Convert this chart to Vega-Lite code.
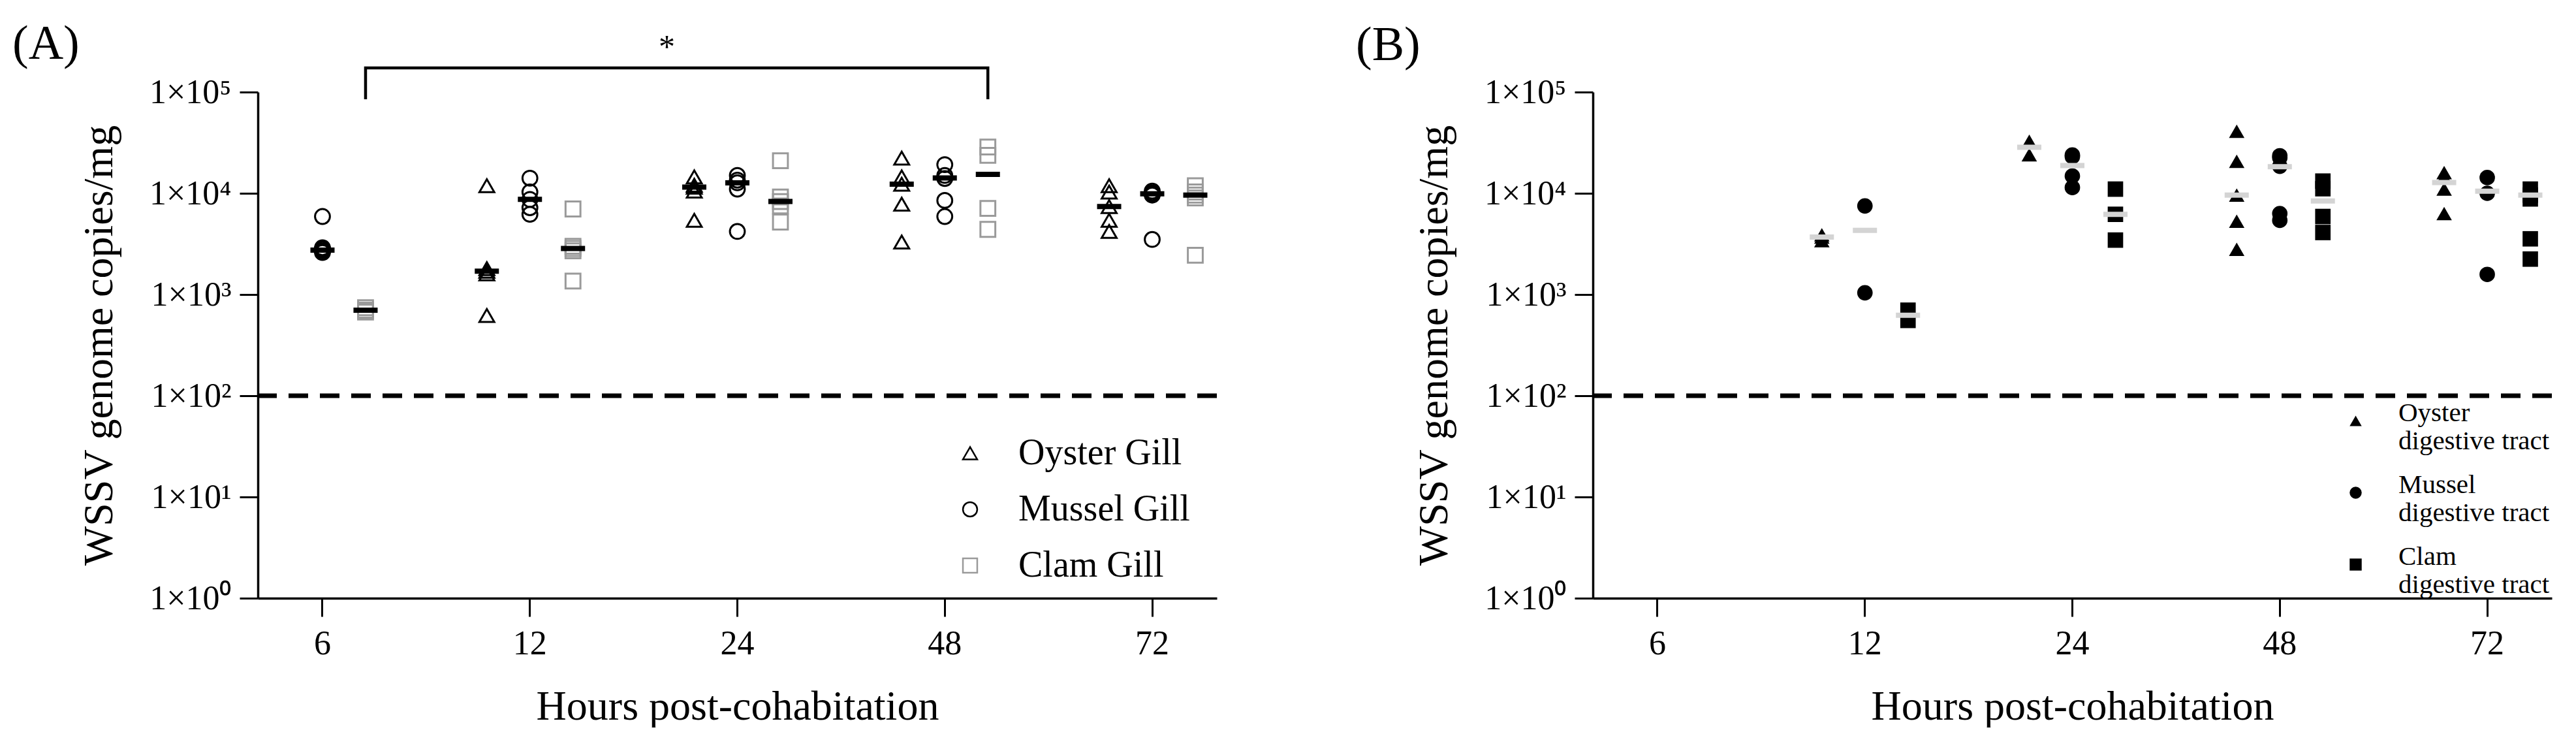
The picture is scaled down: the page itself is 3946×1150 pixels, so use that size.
{
  "$schema": "https://vega.github.io/schema/vega-lite/v6.json",
  "padding": {"left": 19, "top": 30, "right": 0, "bottom": 0},
  "config": {
    "font": "Liberation Serif",
    "view": {"stroke": null},
    "axis": {
      "grid": false,
      "domainColor": "black",
      "domainWidth": 3.5,
      "tickColor": "black",
      "tickWidth": 3,
      "tickSize": 28,
      "labelColor": "black",
      "labelFont": "Liberation Serif",
      "labelFontSize": 52,
      "titleColor": "black",
      "titleFont": "Liberation Serif",
      "titleFontSize": 64,
      "titleFontWeight": "normal"
    },
    "title": {"font": "Liberation Serif", "fontSize": 74, "fontWeight": "normal", "color": "black"}
  },
  "datasets": {
    "gill": [
      {"h": 6, "t": "Mussel Gill", "v": 5900}, {"h": 6, "t": "Mussel Gill", "v": 2900}, {"h": 6, "t": "Mussel Gill", "v": 2800}, {"h": 6, "t": "Mussel Gill", "v": 2700}, {"h": 6, "t": "Mussel Gill", "v": 2600},
      {"h": 6, "t": "Clam Gill", "v": 740}, {"h": 6, "t": "Clam Gill", "v": 700}, {"h": 6, "t": "Clam Gill", "v": 670},
      {"h": 12, "t": "Oyster Gill", "v": 11900}, {"h": 12, "t": "Oyster Gill", "v": 1800}, {"h": 12, "t": "Oyster Gill", "v": 1700}, {"h": 12, "t": "Oyster Gill", "v": 1600}, {"h": 12, "t": "Oyster Gill", "v": 620},
      {"h": 12, "t": "Mussel Gill", "v": 14100}, {"h": 12, "t": "Mussel Gill", "v": 10300}, {"h": 12, "t": "Mussel Gill", "v": 8700}, {"h": 12, "t": "Mussel Gill", "v": 7200}, {"h": 12, "t": "Mussel Gill", "v": 6200},
      {"h": 12, "t": "Clam Gill", "v": 7000}, {"h": 12, "t": "Clam Gill", "v": 3000}, {"h": 12, "t": "Clam Gill", "v": 2850}, {"h": 12, "t": "Clam Gill", "v": 2700}, {"h": 12, "t": "Clam Gill", "v": 1360},
      {"h": 24, "t": "Oyster Gill", "v": 14500}, {"h": 24, "t": "Oyster Gill", "v": 12000}, {"h": 24, "t": "Oyster Gill", "v": 11500}, {"h": 24, "t": "Oyster Gill", "v": 10500}, {"h": 24, "t": "Oyster Gill", "v": 5400},
      {"h": 24, "t": "Mussel Gill", "v": 15000}, {"h": 24, "t": "Mussel Gill", "v": 13500}, {"h": 24, "t": "Mussel Gill", "v": 12700}, {"h": 24, "t": "Mussel Gill", "v": 11000}, {"h": 24, "t": "Mussel Gill", "v": 4200},
      {"h": 24, "t": "Clam Gill", "v": 21000}, {"h": 24, "t": "Clam Gill", "v": 9200}, {"h": 24, "t": "Clam Gill", "v": 8300}, {"h": 24, "t": "Clam Gill", "v": 7500}, {"h": 24, "t": "Clam Gill", "v": 5200},
      {"h": 48, "t": "Oyster Gill", "v": 22300}, {"h": 48, "t": "Oyster Gill", "v": 14500}, {"h": 48, "t": "Oyster Gill", "v": 12300}, {"h": 48, "t": "Oyster Gill", "v": 7800}, {"h": 48, "t": "Oyster Gill", "v": 3300},
      {"h": 48, "t": "Mussel Gill", "v": 19200}, {"h": 48, "t": "Mussel Gill", "v": 15000}, {"h": 48, "t": "Mussel Gill", "v": 14000}, {"h": 48, "t": "Mussel Gill", "v": 8500}, {"h": 48, "t": "Mussel Gill", "v": 5900},
      {"h": 48, "t": "Clam Gill", "v": 28700}, {"h": 48, "t": "Clam Gill", "v": 23700}, {"h": 48, "t": "Clam Gill", "v": 7100}, {"h": 48, "t": "Clam Gill", "v": 4400},
      {"h": 72, "t": "Oyster Gill", "v": 11900}, {"h": 72, "t": "Oyster Gill", "v": 10300}, {"h": 72, "t": "Oyster Gill", "v": 7400}, {"h": 72, "t": "Oyster Gill", "v": 5400}, {"h": 72, "t": "Oyster Gill", "v": 4200},
      {"h": 72, "t": "Mussel Gill", "v": 10500}, {"h": 72, "t": "Mussel Gill", "v": 10100}, {"h": 72, "t": "Mussel Gill", "v": 9800}, {"h": 72, "t": "Mussel Gill", "v": 9600}, {"h": 72, "t": "Mussel Gill", "v": 3500},
      {"h": 72, "t": "Clam Gill", "v": 11900}, {"h": 72, "t": "Clam Gill", "v": 10300}, {"h": 72, "t": "Clam Gill", "v": 9600}, {"h": 72, "t": "Clam Gill", "v": 9000}, {"h": 72, "t": "Clam Gill", "v": 2440}
    ],
    "gillMed": [
      {"h": 6, "t": "Mussel Gill", "v": 2750}, {"h": 6, "t": "Clam Gill", "v": 700},
      {"h": 12, "t": "Oyster Gill", "v": 1700}, {"h": 12, "t": "Mussel Gill", "v": 8700}, {"h": 12, "t": "Clam Gill", "v": 2850},
      {"h": 24, "t": "Oyster Gill", "v": 11500}, {"h": 24, "t": "Mussel Gill", "v": 12700}, {"h": 24, "t": "Clam Gill", "v": 8300},
      {"h": 48, "t": "Oyster Gill", "v": 12300}, {"h": 48, "t": "Mussel Gill", "v": 14200}, {"h": 48, "t": "Clam Gill", "v": 15400},
      {"h": 72, "t": "Oyster Gill", "v": 7400}, {"h": 72, "t": "Mussel Gill", "v": 9900}, {"h": 72, "t": "Clam Gill", "v": 9600}
    ],
    "sig": [
      {"h": 6, "t": "Clam Gill", "v": 85000, "o": 1},
      {"h": 6, "t": "Clam Gill", "v": 173000, "o": 2},
      {"h": 48, "t": "Clam Gill", "v": 173000, "o": 3},
      {"h": 48, "t": "Clam Gill", "v": 85000, "o": 4}
    ],
    "star": [
      {"h": 24, "t": "Oyster Gill", "v": 220000, "label": "*"}
    ],
    "lod": [
      {"lod": 100}
    ],
    "tract": [
      {"h": 12, "t": "Oyster digestive tract", "v": 3900}, {"h": 12, "t": "Oyster digestive tract", "v": 3700}, {"h": 12, "t": "Oyster digestive tract", "v": 3400},
      {"h": 12, "t": "Mussel digestive tract", "v": 7500}, {"h": 12, "t": "Mussel digestive tract", "v": 1040},
      {"h": 12, "t": "Clam digestive tract", "v": 700}, {"h": 12, "t": "Clam digestive tract", "v": 555},
      {"h": 24, "t": "Oyster digestive tract", "v": 32700}, {"h": 24, "t": "Oyster digestive tract", "v": 24000},
      {"h": 24, "t": "Mussel digestive tract", "v": 23900}, {"h": 24, "t": "Mussel digestive tract", "v": 23000}, {"h": 24, "t": "Mussel digestive tract", "v": 14800}, {"h": 24, "t": "Mussel digestive tract", "v": 11400},
      {"h": 24, "t": "Clam digestive tract", "v": 11000}, {"h": 24, "t": "Clam digestive tract", "v": 6200}, {"h": 24, "t": "Clam digestive tract", "v": 3450},
      {"h": 48, "t": "Oyster digestive tract", "v": 41000}, {"h": 48, "t": "Oyster digestive tract", "v": 20700}, {"h": 48, "t": "Oyster digestive tract", "v": 9600}, {"h": 48, "t": "Oyster digestive tract", "v": 5300}, {"h": 48, "t": "Oyster digestive tract", "v": 2800},
      {"h": 48, "t": "Mussel digestive tract", "v": 23500}, {"h": 48, "t": "Mussel digestive tract", "v": 22500}, {"h": 48, "t": "Mussel digestive tract", "v": 18500}, {"h": 48, "t": "Mussel digestive tract", "v": 6300}, {"h": 48, "t": "Mussel digestive tract", "v": 5400},
      {"h": 48, "t": "Clam digestive tract", "v": 13200}, {"h": 48, "t": "Clam digestive tract", "v": 11100}, {"h": 48, "t": "Clam digestive tract", "v": 5900}, {"h": 48, "t": "Clam digestive tract", "v": 4100},
      {"h": 72, "t": "Oyster digestive tract", "v": 16000}, {"h": 72, "t": "Oyster digestive tract", "v": 14500}, {"h": 72, "t": "Oyster digestive tract", "v": 11000}, {"h": 72, "t": "Oyster digestive tract", "v": 6300},
      {"h": 72, "t": "Mussel digestive tract", "v": 14300}, {"h": 72, "t": "Mussel digestive tract", "v": 10000}, {"h": 72, "t": "Mussel digestive tract", "v": 1580},
      {"h": 72, "t": "Clam digestive tract", "v": 11000}, {"h": 72, "t": "Clam digestive tract", "v": 9600}, {"h": 72, "t": "Clam digestive tract", "v": 8800}, {"h": 72, "t": "Clam digestive tract", "v": 3550}, {"h": 72, "t": "Clam digestive tract", "v": 2240}
    ],
    "tractMed": [
      {"h": 12, "t": "Oyster digestive tract", "v": 3700}, {"h": 12, "t": "Mussel digestive tract", "v": 4300}, {"h": 12, "t": "Clam digestive tract", "v": 625},
      {"h": 24, "t": "Oyster digestive tract", "v": 28500}, {"h": 24, "t": "Mussel digestive tract", "v": 18800}, {"h": 24, "t": "Clam digestive tract", "v": 6200},
      {"h": 48, "t": "Oyster digestive tract", "v": 9600}, {"h": 48, "t": "Mussel digestive tract", "v": 18300}, {"h": 48, "t": "Clam digestive tract", "v": 8400},
      {"h": 72, "t": "Oyster digestive tract", "v": 12800}, {"h": 72, "t": "Mussel digestive tract", "v": 10500}, {"h": 72, "t": "Clam digestive tract", "v": 9600}
    ]
  },
  "spacing": 209,
  "resolve": {"scale": {"x": "independent", "y": "independent", "xOffset": "independent", "shape": "independent", "stroke": "independent"}, "legend": {"shape": "independent", "stroke": "independent"}},
  "hconcat": [
    {
      "title": {"text": "(A)", "anchor": "start", "frame": "group", "dx": -376, "offset": -116, "baseline": "alphabetic"},
      "width": 1469,
      "height": 775,
      "layer": [
        {
          "data": {"name": "lod"},
          "mark": {"type": "rule", "strokeDash": [30, 18], "strokeWidth": 7, "color": "black"},
          "encoding": {"y": {"field": "lod", "type": "quantitative", "scale": {"type": "log", "domain": [1, 100000], "nice": false}}}
        },
        {
          "data": {"name": "gill"},
          "mark": {"type": "point", "filled": false, "size": 520, "strokeWidth": 3, "opacity": 1},
          "encoding": {
            "x": {"field": "h", "type": "ordinal", "scale": {"type": "band", "paddingInner": 0.377, "paddingOuter": 0, "domain": [6, 12, 24, 48, 72]},
                  "axis": {"title": "Hours post-cohabitation", "labelAngle": 0, "labelPadding": 16, "titlePadding": 39}},
            "xOffset": {"field": "t", "type": "nominal", "scale": {"domain": ["Oyster Gill", "Mussel Gill", "Clam Gill"]}},
            "y": {"field": "v", "type": "quantitative", "scale": {"type": "log", "domain": [1, 100000], "nice": false},
                  "axis": {"title": "WSSV genome copies/mg", "values": [1, 10, 100, 1000, 10000, 100000],
                           "labelExpr": "'1×10' + ['⁰','¹','²','³','⁴','⁵'][round(log(datum.value)/LN10)]",
                           "labelPadding": 13, "titlePadding": 44}},
            "shape": {"field": "t", "type": "nominal", "scale": {"domain": ["Oyster Gill", "Mussel Gill", "Clam Gill"], "range": ["triangle-up", "circle", "square"]},
                      "legend": {"orient": "none", "legendX": 1063, "legendY": 525, "title": null, "padding": 0, "labelFontSize": 56, "labelFont": "Liberation Serif", "labelColor": "black", "labelLimit": 0, "rowPadding": 30, "labelOffset": 46, "symbolSize": 480, "symbolStrokeWidth": 2.5}},
            "stroke": {"field": "t", "type": "nominal", "scale": {"domain": ["Oyster Gill", "Mussel Gill", "Clam Gill"], "range": ["black", "black", "#9a9a9a"]},
                       "legend": {"orient": "none", "legendX": 1063, "legendY": 525, "title": null, "padding": 0, "labelFontSize": 56, "labelFont": "Liberation Serif", "labelColor": "black", "labelLimit": 0, "rowPadding": 30, "labelOffset": 46, "symbolSize": 480, "symbolStrokeWidth": 2.5}}
          }
        },
        {
          "data": {"name": "gillMed"},
          "mark": {"type": "tick", "color": "black", "size": 37, "thickness": 8, "opacity": 1},
          "encoding": {
            "x": {"field": "h", "type": "ordinal"},
            "xOffset": {"field": "t", "type": "nominal"},
            "y": {"field": "v", "type": "quantitative"}
          }
        },
        {
          "data": {"name": "sig"},
          "mark": {"type": "line", "color": "black", "strokeWidth": 4.5, "clip": false},
          "encoding": {
            "x": {"field": "h", "type": "ordinal"},
            "xOffset": {"field": "t", "type": "nominal"},
            "y": {"field": "v", "type": "quantitative"},
            "order": {"field": "o", "type": "quantitative"}
          }
        },
        {
          "data": {"name": "star"},
          "mark": {"type": "text", "fontSize": 50, "baseline": "alphabetic", "align": "center", "dx": -42, "color": "black", "font": "Liberation Serif"},
          "encoding": {
            "x": {"field": "h", "type": "ordinal"},
            "xOffset": {"field": "t", "type": "nominal"},
            "y": {"field": "v", "type": "quantitative"},
            "text": {"field": "label"}
          }
        }
      ]
    },
    {
      "title": {"text": "(B)", "anchor": "start", "frame": "group", "dx": -363, "offset": -51, "baseline": "alphabetic"},
      "width": 1469,
      "height": 775,
      "layer": [
        {
          "data": {"name": "lod"},
          "mark": {"type": "rule", "strokeDash": [30, 18], "strokeWidth": 7, "color": "black"},
          "encoding": {"y": {"field": "lod", "type": "quantitative", "scale": {"type": "log", "domain": [1, 100000], "nice": false}}}
        },
        {
          "data": {"name": "tract"},
          "mark": {"type": "point", "filled": true, "size": 560, "color": "black", "opacity": 1},
          "encoding": {
            "x": {"field": "h", "type": "ordinal", "scale": {"type": "band", "paddingInner": 0.377, "paddingOuter": 0, "domain": [6, 12, 24, 48, 72]},
                  "axis": {"title": "Hours post-cohabitation", "labelAngle": 0, "labelPadding": 16, "titlePadding": 39}},
            "xOffset": {"field": "t", "type": "nominal", "scale": {"domain": ["Oyster digestive tract", "Mussel digestive tract", "Clam digestive tract"]}},
            "y": {"field": "v", "type": "quantitative", "scale": {"type": "log", "domain": [1, 100000], "nice": false},
                  "axis": {"title": "WSSV genome copies/mg", "values": [1, 10, 100, 1000, 10000, 100000],
                           "labelExpr": "'1×10' + ['⁰','¹','²','³','⁴','⁵'][round(log(datum.value)/LN10)]",
                           "labelPadding": 13, "titlePadding": 44}},
            "shape": {"field": "t", "type": "nominal", "scale": {"domain": ["Oyster digestive tract", "Mussel digestive tract", "Clam digestive tract"], "range": ["triangle-up", "circle", "square"]},
                      "legend": {"orient": "none", "legendX": 1148, "legendY": 483, "title": null, "padding": 0, "labelFontSize": 41, "labelFont": "Liberation Serif", "labelColor": "black", "labelLimit": 0, "labelBaseline": "alphabetic", "rowPadding": 25, "labelOffset": 45, "symbolSize": 340, "symbolFillColor": "black", "symbolStrokeWidth": 0,
                                 "labelExpr": "[split(datum.label, ' ')[0], 'digestive tract']"}}
          }
        },
        {
          "data": {"name": "tractMed"},
          "mark": {"type": "tick", "color": "#d4d4d4", "size": 37, "thickness": 8, "opacity": 1},
          "encoding": {
            "x": {"field": "h", "type": "ordinal"},
            "xOffset": {"field": "t", "type": "nominal"},
            "y": {"field": "v", "type": "quantitative"}
          }
        }
      ]
    }
  ]
}
